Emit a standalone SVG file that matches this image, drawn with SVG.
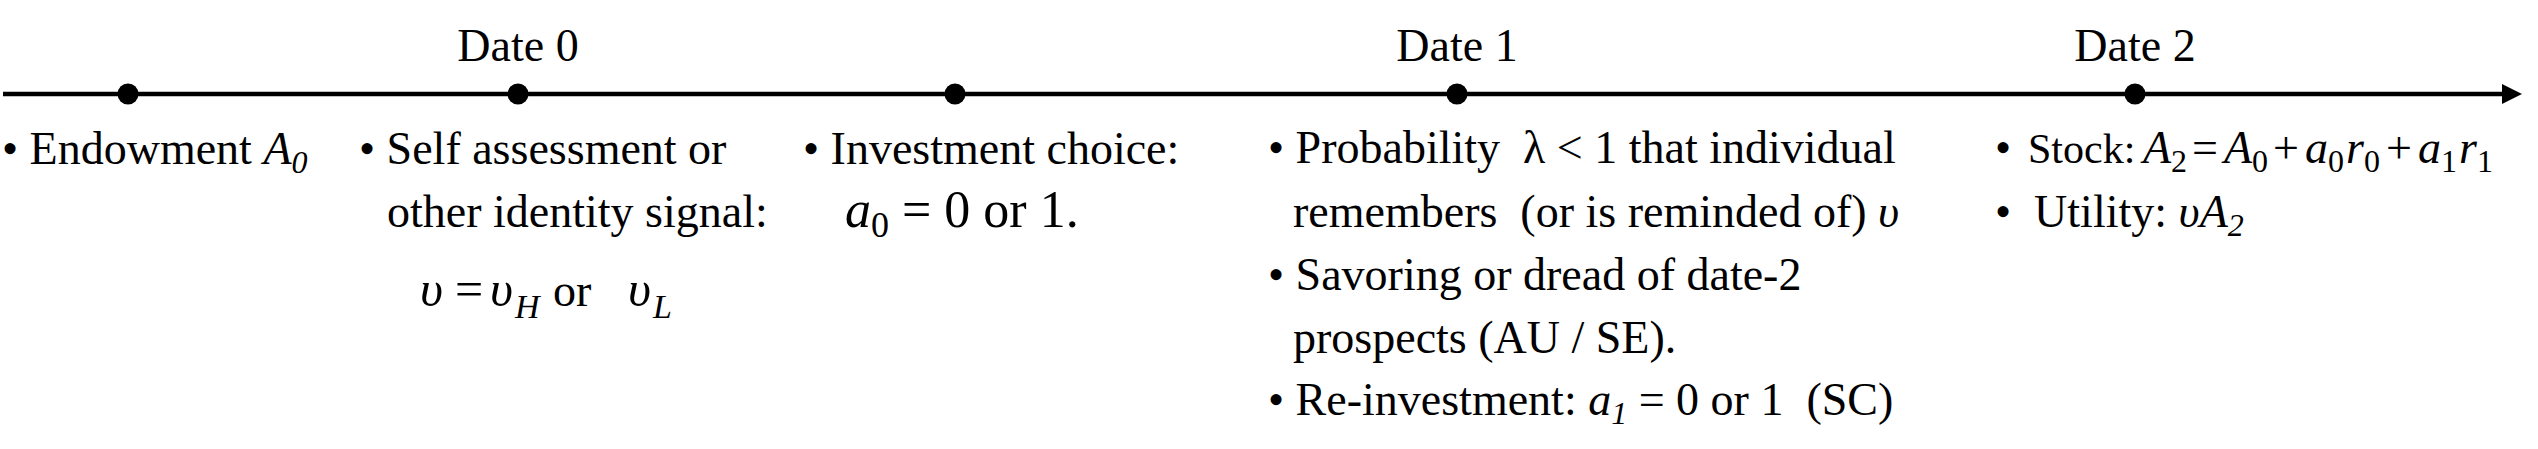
<svg xmlns="http://www.w3.org/2000/svg" width="2538" height="449" viewBox="0 0 2538 449">
<style>
text{font-family:"Liberation Serif","Times New Roman",serif;font-size:46px;fill:#000}
.i{font-style:italic}
.s{font-size:32px}
.f{font-size:50px}
.fs{font-size:34px}
.dot{fill:#000}
</style>
<rect width="2538" height="449" fill="#fff"/>
<g id="connectors">
<line x1="3" y1="94" x2="2504" y2="94" stroke="#000" stroke-width="4.5"/>
<polygon points="2502,84 2522,94 2502,104" fill="#000"/>
</g>
<g id="node-endowment">
<circle class="dot" cx="128" cy="94" r="10.5"/>
<text x="2" y="164">• Endowment <tspan class="i">A</tspan><tspan class="i s" dy="9">0</tspan></text>
</g>
<g id="node-date0">
<circle class="dot" cx="518" cy="94" r="10.5"/>
<text x="518" y="61" text-anchor="middle">Date 0</text>
<text x="359" y="164">• Self assessment or</text>
<text x="387" y="227">other identity signal:</text>
<text y="306" class="f"><tspan class="i" x="420">υ</tspan><tspan x="455">=</tspan><tspan class="i" x="490">υ</tspan><tspan class="i fs" x="515" dy="12">H</tspan><tspan x="553" dy="-12" style="font-size:46px">or</tspan><tspan class="i" x="628">υ</tspan><tspan class="i fs" x="653" dy="12">L</tspan></text>
</g>
<g id="node-investment">
<circle class="dot" cx="955" cy="94" r="10.5"/>
<text x="803" y="164">• Investment choice:</text>
<text x="845" y="227" style="font-size:52px"><tspan class="i">a</tspan><tspan dy="10" style="font-size:36px">0</tspan><tspan dy="-10"> = 0 or 1.</tspan></text>
</g>
<g id="node-date1">
<circle class="dot" cx="1457" cy="94" r="10.5"/>
<text x="1457" y="61" text-anchor="middle">Date 1</text>
<text x="1268" y="163" xml:space="preserve">• Probability  λ &lt; 1 that individual</text>
<text x="1293" y="227" xml:space="preserve">remembers  (or is reminded of) <tspan class="i">υ</tspan></text>
<text x="1268" y="290">• Savoring or dread of date-2</text>
<text x="1293" y="353">prospects (AU / SE).</text>
<text x="1268" y="415" xml:space="preserve">• Re-investment: <tspan class="i">a</tspan><tspan class="i s" dy="9">1</tspan><tspan dy="-9"> = 0 or 1  (SC)</tspan></text>
</g>
<g id="node-date2">
<circle class="dot" cx="2135" cy="94" r="10.5"/>
<text x="2135" y="61" text-anchor="middle">Date 2</text>
<text x="1995" y="163">•</text>
<text x="2028" y="163" style="font-size:42px">Stock:</text>
<text y="163"><tspan class="i" x="2143">A</tspan><tspan class="s" x="2171" dy="9">2</tspan><tspan x="2192" dy="-9">=</tspan><tspan class="i" x="2224">A</tspan><tspan class="s" x="2252" dy="9">0</tspan><tspan x="2273" dy="-9">+</tspan><tspan class="i" x="2305">a</tspan><tspan class="s" x="2328" dy="9">0</tspan><tspan class="i" x="2346" dy="-9">r</tspan><tspan class="s" x="2364" dy="9">0</tspan><tspan x="2386" dy="-9">+</tspan><tspan class="i" x="2418">a</tspan><tspan class="s" x="2441" dy="9">1</tspan><tspan class="i" x="2459" dy="-9">r</tspan><tspan class="s" x="2477" dy="9">1</tspan></text>
<text x="1995" y="227" xml:space="preserve">•  Utility: <tspan class="i">υA</tspan><tspan class="i s" dy="9">2</tspan></text>
</g>
</svg>
